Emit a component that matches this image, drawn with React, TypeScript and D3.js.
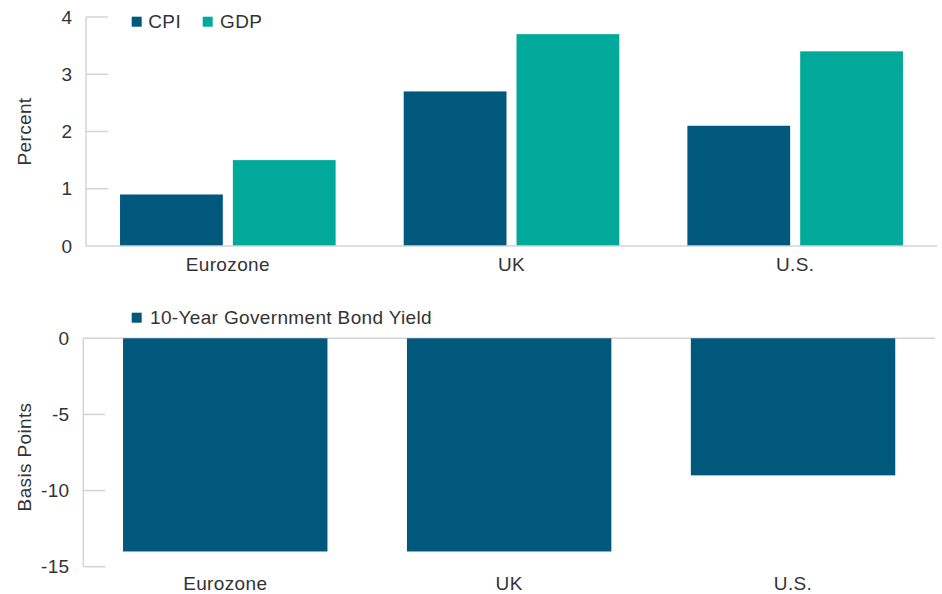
import React from "react";
import * as d3 from "d3";

const categories = ["Eurozone", "UK", "U.S."];
const seriesNames = ["CPI", "GDP"];
const cpi = [0.9, 2.7, 2.1];
const gdp = [1.5, 3.7, 3.4];
const bondYield = [-14, -14, -9];
const topTicks = [0, 1, 2, 3, 4];
const bottomTicks = [0, -5, -10, -15];
const bondLabel = "10-Year Government Bond Yield";

const W = 942;
const H = 594;
const DARK = "#00587c";
const TEAL = "#00a99a";
const AXIS = "#d4d4d4";
const TEXT = "#333333";
const FONT = "'Liberation Sans', Arial, Helvetica, sans-serif";
const FS = 19;
const LS = 0.35;

export default function App() {
  // top chart
  const tLeft = 86, tRight = 937, tTop = 17, tBottom = 246;
  const yTop = d3.scaleLinear().domain([0, 4]).range([tBottom, tTop]);
  const x0 = d3.scaleBand<string>().domain(categories).range([tLeft, tRight]).paddingInner(0.24).paddingOuter(0.12);
  const x1 = d3.scaleBand<string>().domain(seriesNames).range([0, x0.bandwidth()]).paddingInner(0.089);
  const topSeries = [cpi, gdp];
  const colors = [DARK, TEAL];

  // bottom chart
  const bLeft = 83.3, bRight = 935, bTop = 338.3, bBottom = 566.7;
  const yBot = d3.scaleLinear().domain([-15, 0]).range([bBottom, bTop]);
  const xb = d3.scaleBand<string>().domain(categories).range([bLeft, bRight]).paddingInner(0.28).paddingOuter(0.14);

  const textProps = { fontFamily: FONT, fontSize: FS, fill: TEXT, letterSpacing: LS };

  return (
    <svg width={W} height={H} style={{ position: "absolute", left: 0, top: 0, background: "#fff" }}>
      {/* ===== TOP CHART ===== */}
      <line x1={tLeft} x2={tLeft} y1={yTop(4)} y2={tBottom} stroke={AXIS} strokeWidth={1.5} />
      {topTicks.map((t) => (
        <g key={"tt" + t}>
          {t !== 0 && <line x1={tLeft} x2={tLeft + 22} y1={yTop(t)} y2={yTop(t)} stroke={AXIS} strokeWidth={1.5} />}
          <text x={72.5} y={yTop(t)} textAnchor="end" dominantBaseline="central" {...textProps}>{t}</text>
        </g>
      ))}
      {categories.map((c, i) => (
        <g key={"tb" + c}>
          {topSeries.map((s, j) => (
            <rect
              key={j}
              x={(x0(c) as number) + (x1(seriesNames[j]) as number)}
              width={x1.bandwidth()}
              y={yTop(s[i])}
              height={yTop(0) - yTop(s[i])}
              fill={colors[j]}
            />
          ))}
        </g>
      ))}
      <line x1={tLeft} x2={tRight} y1={tBottom} y2={tBottom} stroke={AXIS} strokeWidth={1.5} />
      {categories.map((c) => (
        <text key={"tl" + c} x={(x0(c) as number) + x0.bandwidth() / 2} y={270.5} textAnchor="middle" {...textProps}>{c}</text>
      ))}
      <text transform={`translate(31,${(tTop + tBottom) / 2}) rotate(-90)`} textAnchor="middle" {...textProps}>Percent</text>
      {/* legend top */}
      <rect x={131.7} y={16.7} width={10} height={10} fill={DARK} />
      <text x={148.3} y={28} {...textProps}>{seriesNames[0]}</text>
      <rect x={202.7} y={16.7} width={10} height={10} fill={TEAL} />
      <text x={220} y={28} {...textProps}>{seriesNames[1]}</text>

      {/* ===== BOTTOM CHART ===== */}
      <line x1={bLeft} x2={bLeft} y1={bTop} y2={bBottom} stroke={AXIS} strokeWidth={1.5} />
      {bottomTicks.map((t) => (
        <g key={"bt" + t}>
          {t !== 0 && <line x1={bLeft} x2={bLeft + 22} y1={yBot(t)} y2={yBot(t)} stroke={AXIS} strokeWidth={1.5} />}
          <text x={69.5} y={yBot(t)} textAnchor="end" dominantBaseline="central" {...textProps}>{t}</text>
        </g>
      ))}
      <line x1={bLeft} x2={bRight} y1={bTop} y2={bTop} stroke={AXIS} strokeWidth={1.5} />
      {categories.map((c, i) => (
        <rect
          key={"bb" + c}
          x={xb(c) as number}
          width={xb.bandwidth()}
          y={yBot(0)}
          height={yBot(bondYield[i]) - yBot(0)}
          fill={DARK}
        />
      ))}
      {categories.map((c) => (
        <text key={"bl" + c} x={(xb(c) as number) + xb.bandwidth() / 2} y={590} textAnchor="middle" {...textProps}>{c}</text>
      ))}
      <text transform={`translate(31,457) rotate(-90)`} textAnchor="middle" {...textProps}>Basis Points</text>
      <rect x={131.7} y={312.7} width={10} height={10} fill={DARK} />
      <text x={150} y={324} {...textProps}>{bondLabel}</text>
    </svg>
  );
}
